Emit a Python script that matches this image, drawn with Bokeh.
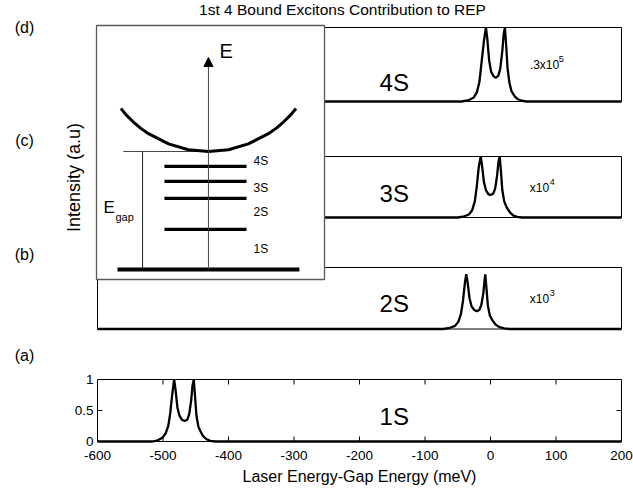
import math
from bokeh.plotting import figure
from bokeh.models import Range1d, Label, Arrow, NormalHead
from bokeh.core.properties import value
from bokeh.embed import file_html
from bokeh.resources import INLINE

FONT = "Liberation Sans"

# ---------------- data ----------------
x_ticks = [-600, -500, -400, -300, -200, -100, 0, 100, 200]
x_tick_labels = ["-600", "-500", "-400", "-300", "-200", "-100", "0", "100", "200"]
y_ticks = [0, 0.5, 1]
y_tick_labels = ["0", "0.5", "1"]

x_1s = [-600, -516, -508, -501, -496, -492, -489, -486, -483, -481, -478, -475, -471, -467,
        -463, -460, -457, -455, -453, -451, -449, -446, -443, -439, -434, -428, -420, 200]
y_1s = [0, 0, 0.02, 0.06, 0.13, 0.25, 0.45, 0.75, 1.0, 0.85, 0.55, 0.42, 0.35, 0.33,
        0.35, 0.44, 0.66, 0.9, 1.0, 0.72, 0.42, 0.24, 0.17, 0.09, 0.04, 0.01, 0, 0]

x_2s = [-600, -72, -62, -54, -49, -45, -42, -39, -37, -35, -32, -29, -25, -21,
        -17, -14, -11, -9, -8, -6, -4, -1, 3, 8, 14, 21, 29, 200]
y_2s = [0, 0, 0.02, 0.05, 0.12, 0.25, 0.46, 0.76, 0.89, 0.76, 0.5, 0.37, 0.31, 0.29,
        0.31, 0.39, 0.58, 0.8, 0.89, 0.64, 0.38, 0.22, 0.14, 0.07, 0.03, 0.01, 0, 0]

x_3s = [-600, -50, -40, -33, -28, -24, -21, -18, -15, -13, -10, -7, -3, 0,
        4, 7, 10, 12, 14, 16, 18, 21, 25, 30, 35, 41, 48, 200]
y_3s = [0, 0, 0.02, 0.05, 0.12, 0.26, 0.5, 0.82, 1.0, 0.86, 0.58, 0.45, 0.38, 0.37,
        0.39, 0.47, 0.68, 0.9, 1.0, 0.75, 0.45, 0.26, 0.16, 0.08, 0.03, 0.01, 0, 0]

x_4s = [-600, -44, -33, -26, -21, -17, -14, -10, -7, -5, -2, 1, 5, 8,
        12, 15, 18, 20, 22, 24, 26, 29, 32, 37, 42, 48, 55, 200]
y_4s = [0, 0, 0.02, 0.05, 0.12, 0.26, 0.5, 0.82, 1.0, 0.86, 0.55, 0.4, 0.34, 0.32,
        0.35, 0.45, 0.68, 0.9, 1.0, 0.75, 0.45, 0.25, 0.14, 0.07, 0.03, 0.01, 0, 0]

panel_names = ["1S", "2S", "3S", "4S"]
panel_tags = ["(a)", "(b)", "(c)", "(d)"]
scale_text = ["", "x10", "x10", ".3x10"]
scale_exp = ["", "3", "4", "5"]

title_text = "1st 4 Bound Excitons Contribution to REP"
x_label = "Laser Energy-Gap Energy (meV)"
y_label = "Intensity (a.u)"

# inset schematic (arbitrary units, box 0..10 x 0..10)
level_names = ["1S", "2S", "3S", "4S"]
level_energy = [1.97, 3.19, 3.86, 4.45]
level_label_energy = [1.22, 2.64, 3.62, 4.65]
gap_energy = 5.04
ground_energy = 0.39
axis_top_energy = 8.74
band_k = [1.07, 1.31, 1.62, 1.93, 2.28, 3.16, 4.03, 4.91, 5.79, 6.66, 7.54, 7.89, 8.20, 8.51, 8.75]
band_e = [6.73, 6.47, 6.20, 5.96, 5.74, 5.34, 5.11, 5.04, 5.11, 5.34, 5.74, 5.96, 6.20, 6.47, 6.73]

# ---------------- layout (canvas pixels, frame = whole canvas) ----------------
W, H = 633, 491
X_PX = (97, 621)
BANDS = [(441, 379), (328.5, 267), (217, 156), (101, 27)]
INSET_PX = (96, 324, 279, 25)   # left, right, bottom, top
INSET_UNITS = (0, 10)
TICK_PX = 5
NAME_POS = [(-147, 0.40), (-147, 0.41), (-147, 0.39), (-147, 0.26)]
SCALE_X, SCALE_Y = 60, 0.49
EXP_OFFSET = [0, 20, 20, 29]
TAG_X, TAG_Y = 24, [355, 254, 140, 27]
XTICK_LABEL_Y = 455
YTICK_LABEL_X = 93
TITLE_POS = (342, 9)
XLABEL_POS = (359, 476)
YLABEL_POS = (73, 177)


def span(f_lo, f_hi, p0, v0, p1, v1):
    k = (v1 - v0) / (p1 - p0)
    return Range1d(start=v0 + (f_lo - p0) * k, end=v0 + (f_hi - p0) * k)


p = figure(width=W, height=H,
           x_range=span(0, W, X_PX[0], x_ticks[0], X_PX[1], x_ticks[-1]),
           y_range=span(H, 0, BANDS[0][0], y_ticks[0], BANDS[0][1], y_ticks[-1]),
           output_backend="svg", toolbar_location=None,
           x_axis_location=None, y_axis_location=None,
           min_border_left=0, min_border_right=0, min_border_top=0, min_border_bottom=0)
p.outline_line_color = None
p.grid.visible = False
p.background_fill_color = "white"
p.border_fill_color = "white"

range_names = ["default", "pb", "pc", "pd"]
for i in range(1, 4):
    p.extra_y_ranges[range_names[i]] = span(H, 0, BANDS[i][0], y_ticks[0], BANDS[i][1], y_ticks[-1])
p.extra_x_ranges["ix"] = span(0, W, INSET_PX[0], INSET_UNITS[0], INSET_PX[1], INSET_UNITS[1])
p.extra_y_ranges["iy"] = span(H, 0, INSET_PX[2], INSET_UNITS[0], INSET_PX[3], INSET_UNITS[1])
p.extra_x_ranges["px"] = Range1d(start=0, end=W)
p.extra_y_ranges["py"] = Range1d(start=H, end=0)

curves = [(x_1s, y_1s), (x_2s, y_2s), (x_3s, y_3s), (x_4s, y_4s)]
for i, (xs, ys) in enumerate(curves):
    rn = range_names[i]
    p.quad(left=[x_ticks[0]], right=[x_ticks[-1]], bottom=[y_ticks[0]], top=[y_ticks[-1]],
           fill_color=None, line_color="black", line_width=1, y_range_name=rn)
    p.line(xs, ys, line_color="black", line_width=2.3, y_range_name=rn)

# tick marks of panel (a), pointing inwards
tx = TICK_PX * (x_ticks[-1] - x_ticks[0]) / (X_PX[1] - X_PX[0])
ty = TICK_PX * (y_ticks[-1] - y_ticks[0]) / (BANDS[0][0] - BANDS[0][1])
inner_x = x_ticks[1:-1]
n = len(inner_x)
p.segment(x0=inner_x, y0=[y_ticks[0]] * n, x1=inner_x, y1=[y_ticks[0] + ty] * n, line_color="black", line_width=1)
p.segment(x0=inner_x, y0=[y_ticks[-1]] * n, x1=inner_x, y1=[y_ticks[-1] - ty] * n, line_color="black", line_width=1)
inner_y = y_ticks[1:-1]
m = len(inner_y)
p.segment(x0=[x_ticks[0]] * m, y0=inner_y, x1=[x_ticks[0] + tx] * m, y1=inner_y, line_color="black", line_width=1)
p.segment(x0=[x_ticks[-1]] * m, y0=inner_y, x1=[x_ticks[-1] - tx] * m, y1=inner_y, line_color="black", line_width=1)

# tick labels of panel (a)
p.text(x=x_ticks, y=[XTICK_LABEL_Y] * len(x_ticks), text=x_tick_labels, y_range_name="py",
       text_font=value(FONT), text_font_size="13.5px", text_color="black",
       text_align="center", text_baseline="middle")
p.text(x=[YTICK_LABEL_X] * len(y_ticks), y=y_ticks, text=y_tick_labels, x_range_name="px",
       text_font=value(FONT), text_font_size="13.5px", text_color="black",
       text_align="right", text_baseline="middle")

# ---------------- inset ----------------
p.quad(left=[INSET_UNITS[0]], right=[INSET_UNITS[1]], bottom=[INSET_UNITS[0]], top=[INSET_UNITS[1]],
       fill_color="white", line_color="#5a5a5a", line_width=1.3, x_range_name="ix", y_range_name="iy")
p.segment(x0=[1.18], y0=[gap_energy], x1=[4.91], y1=[gap_energy], line_color="#444444", line_width=1,
          x_range_name="ix", y_range_name="iy")
p.segment(x0=[2.02], y0=[ground_energy], x1=[2.02], y1=[gap_energy], line_color="#222222", line_width=1,
          x_range_name="ix", y_range_name="iy")
nl = len(level_energy)
p.segment(x0=[2.98] * nl, y0=level_energy, x1=[6.58] * nl, y1=level_energy, line_color="black", line_width=3.3,
          x_range_name="ix", y_range_name="iy")
p.segment(x0=[0.92], y0=[ground_energy], x1=[8.9], y1=[ground_energy], line_color="black", line_width=4,
          x_range_name="ix", y_range_name="iy")
p.line(band_k, band_e, line_color="black", line_width=3, x_range_name="ix", y_range_name="iy")
p.add_layout(Arrow(x_start=4.91, y_start=ground_energy, x_end=4.91, y_end=axis_top_energy,
                   x_range_name="ix", y_range_name="iy", line_color="#444444", line_width=1,
                   end=NormalHead(size=9, fill_color="black", line_color="black", line_width=1)))


def label(text, x, y, size, xr="default", yr="default", align="left", baseline="middle",
          angle=0.0, x_offset=0, y_offset=0):
    p.add_layout(Label(x=x, y=y, text=text, x_range_name=xr, y_range_name=yr,
                       text_font=FONT, text_font_size=f"{size}px", text_color="black",
                       text_align=align, text_baseline=baseline, angle=angle,
                       x_offset=x_offset, y_offset=y_offset))


label("E", 5.4, 9.0, 20, "ix", "iy")
label("E", 0.31, 2.83, 17, "ix", "iy")
label("gap", 0.83, 2.48, 11, "ix", "iy")
for name, e in zip(level_names, level_label_energy):
    label(name, 6.89, e, 12, "ix", "iy")

# panel texts
for i in range(4):
    rn = range_names[i]
    label(panel_names[i], NAME_POS[i][0], NAME_POS[i][1], 24, "default", rn, align="center")
    if scale_text[i]:
        label(scale_text[i], SCALE_X, SCALE_Y, 12, "default", rn)
        label(scale_exp[i], SCALE_X, SCALE_Y, 9, "default", rn, x_offset=EXP_OFFSET[i], y_offset=6)
    label(panel_tags[i], TAG_X, TAG_Y[i], 16, "px", "py", align="center")

label(title_text, TITLE_POS[0], TITLE_POS[1], 15.5, "px", "py", align="center")
label(x_label, XLABEL_POS[0], XLABEL_POS[1], 16, "px", "py", align="center")
label(y_label, YLABEL_POS[0], YLABEL_POS[1], 18, "px", "py", align="center", angle=math.pi / 2)

open("out.html", "w").write(file_html(p, INLINE))
